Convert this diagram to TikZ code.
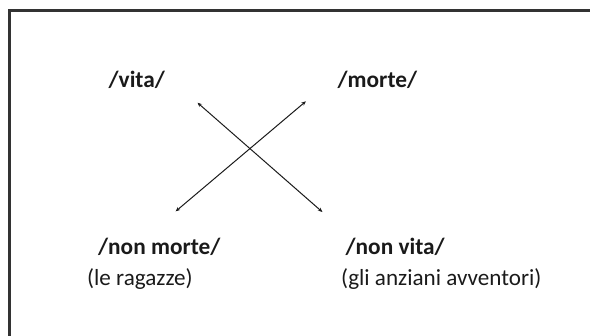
\documentclass[tikz,border=0pt]{standalone}
\usepackage{fontspec}
\setmainfont{Carlito}
\usetikzlibrary{arrows.meta}
\definecolor{frame}{HTML}{333333}
\definecolor{ink}{HTML}{1A1A1A}
\begin{document}
\begin{tikzpicture}[x=1bp,y=-1bp,
  term/.style={inner sep=0pt,anchor=base west,font=\fontsize{23.4}{27}\selectfont\bfseries,text=ink},
  gloss/.style={inner sep=0pt,anchor=base west,font=\fontsize{23.2}{27}\selectfont,text=ink},
  opp/.style={draw=ink,line width=1bp,{Stealth[length=4.5bp,width=3.8bp]}-{Stealth[length=4.5bp,width=3.8bp]}}]
  \useasboundingbox (0,0) rectangle (590,335);
  \clip (0,0) rectangle (590,335);
  % outer frame, running off the right and bottom edges
  \draw[frame,line width=2.2bp] (9.5,345) -- (9.5,10.5) -- (600,10.5);
  % the four poles of the square
  \node[term] (vita) at (108.5,87) {/vita/};
  \node[term] (morte) at (337.5,87) {/morte/};
  \node[term] (nonmorte) at (98,254) {/non morte/};
  \node[term] (nonvita) at (345.5,254) {/non vita/};
  \node[gloss] (ragazze) at (87,285) {(le ragazze)};
  \node[gloss] (avventori) at (341,285) {(gli anziani avventori)};
  % arrow ends
  \coordinate (nw) at (197.5,102.7);
  \coordinate (se) at (322.4,212);
  \coordinate (sw) at (175.7,211.3);
  \coordinate (ne) at (305.9,101.3);
  \draw[opp] (nw) -- (se);
  \draw[opp] (sw) -- (ne);
\end{tikzpicture}
\end{document}
